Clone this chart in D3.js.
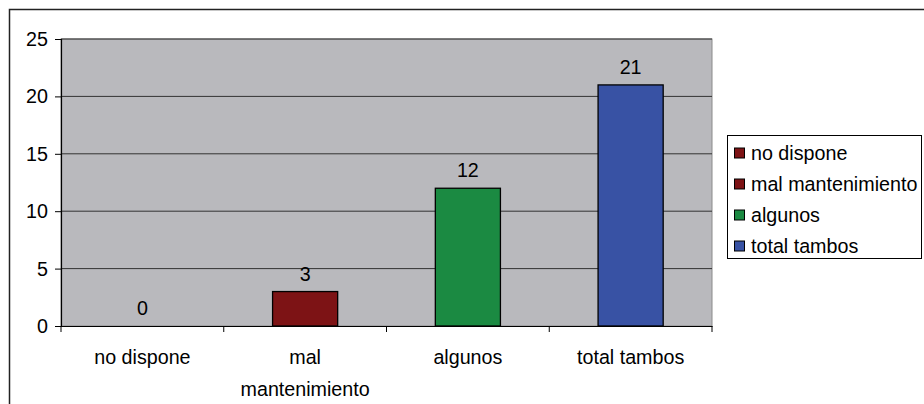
<!DOCTYPE html>
<html><head><meta charset="utf-8">
<script src="https://cdn.jsdelivr.net/npm/d3@7"></script>
<style>body{margin:0;background:#fff}svg{display:block}text{font-family:"Liberation Sans",Arial,sans-serif;fill:#000}</style>
</head><body><svg id="c" width="924" height="404"></svg>
<script>
const categories = ["no dispone", "mal mantenimiento", "algunos", "total tambos"];
const categoryLines = [["no dispone"], ["mal", "mantenimiento"], ["algunos"], ["total tambos"]];
const values = [0, 3, 12, 21];
const colors = ["#7D1315", "#7D1315", "#1B8A42", "#3852A4"];
const yTicks = [0, 5, 10, 15, 20, 25];

const svg = d3.select("#c");
const plot = {l: 61, r: 712, t: 39, b: 326};
const FS = 19.7;

function txt(g, x, y, s, anchor) {
  return g.append("text").attr("x", x).attr("y", y)
    .attr("text-anchor", anchor || "middle").style("font-size", FS + "px").text(s);
}

// outer border
svg.append("rect").attr("x", 9.5).attr("y", 9.5).attr("width", 930).attr("height", 410)
  .attr("fill", "none").attr("stroke", "#222").attr("stroke-width", 1.5);

const x = d3.scaleBand().domain(categories).range([plot.l, plot.r]).paddingInner(0).paddingOuter(0);
const y = d3.scaleLinear().domain([0, 25]).range([plot.b, plot.t]);

svg.append("rect").attr("x", plot.l).attr("y", plot.t).attr("width", plot.r - plot.l).attr("height", plot.b - plot.t)
  .attr("fill", "#B9B9BD").attr("stroke", "#8a8a8a").attr("stroke-width", 1);

// gridlines
svg.selectAll(".grid").data(yTicks.filter(d => d > 0)).join("line")
  .attr("x1", plot.l).attr("x2", plot.r).attr("y1", d => y(d)).attr("y2", d => y(d))
  .attr("stroke", "#333").attr("stroke-width", 1);

// y axis
const ya = svg.append("g").attr("transform", `translate(${plot.l},0)`)
  .call(d3.axisLeft(y).tickValues(yTicks).tickSize(6).tickFormat(d3.format("d")));
ya.select(".domain").attr("stroke", "#000").attr("stroke-width", 1.2);
ya.selectAll(".tick line").attr("stroke", "#000");
ya.selectAll(".tick text").remove();
yTicks.forEach(t => txt(svg, 48, y(t) + 7, String(t), "end"));

// x axis
const xa = svg.append("g").attr("transform", `translate(0,${plot.b})`)
  .call(d3.axisBottom(x).tickSize(0).tickFormat(""));
xa.select(".domain").attr("stroke", "#000").attr("stroke-width", 1.2);
xa.selectAll(".tick").remove();
[...categories.map(c => x(c)), plot.r].forEach(px => {
  svg.append("line").attr("x1", px).attr("x2", px).attr("y1", plot.b).attr("y2", plot.b + 6).attr("stroke", "#000");
});
categories.forEach((c, i) => {
  const cx = x(c) + x.bandwidth() / 2;
  categoryLines[i].forEach((ln, j) => txt(svg, cx, 364 + j * 32, ln));
});

// bars
const bw = x.bandwidth() * 0.4;
svg.selectAll(".bar").data(values.map((v, i) => ({v, c: categories[i], col: colors[i]})).filter(d => d.v > 0))
  .join("rect").attr("x", d => x(d.c) + x.bandwidth() / 2 - bw / 2).attr("width", bw)
  .attr("y", d => y(d.v)).attr("height", d => y(0) - y(d.v))
  .attr("fill", d => d.col).attr("stroke", "#000").attr("stroke-width", 1.3);

values.forEach((v, i) => txt(svg, x(categories[i]) + x.bandwidth() / 2, y(v) - 11, String(v)));

// legend
const lg = svg.append("g");
lg.append("rect").attr("x", 727.5).attr("y", 135.5).attr("width", 194).attr("height", 123)
  .attr("fill", "#fff").attr("stroke", "#000").attr("stroke-width", 1);
categories.forEach((c, i) => {
  const cy = 153 + i * 31;
  lg.append("rect").attr("x", 734.5).attr("y", cy - 5).attr("width", 10).attr("height", 10)
    .attr("fill", colors[i]).attr("stroke", "#000").attr("stroke-width", 1);
  txt(lg, 751, cy + 7, c, "start");
});
</script></body></html>
